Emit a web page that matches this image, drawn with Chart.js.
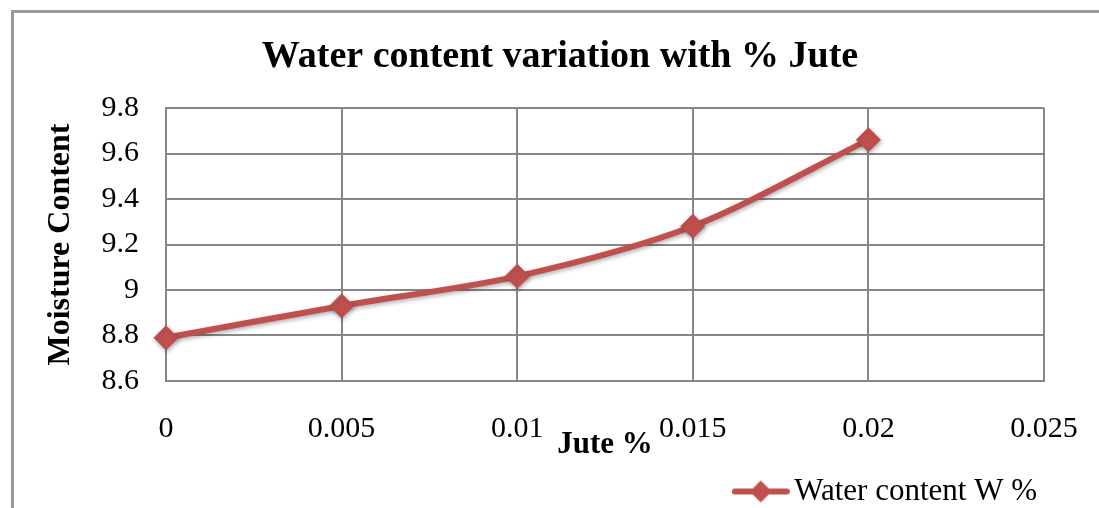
<!DOCTYPE html>
<html>
<head>
<meta charset="utf-8">
<script src="https://cdn.jsdelivr.net/npm/chart.js@4.4.1/dist/chart.umd.min.js"></script>
<style>
  html, body { margin: 0; padding: 0; background: #fff; }
  #wrap { width: 1099px; height: 508px; position: relative; }
</style>
</head>
<body>
<div id="wrap"><canvas id="c" width="1099" height="508"></canvas></div>
<script>
const jutePercent = [0, 0.005, 0.01, 0.015, 0.02];
const waterContent = [8.79, 8.93, 9.06, 9.28, 9.66];
const xTickValues = [0, 0.005, 0.01, 0.015, 0.02, 0.025];
const xTickLabels = ['0', '0.005', '0.01', '0.015', '0.02', '0.025'];
const yTickValues = [8.6, 8.8, 9.0, 9.2, 9.4, 9.6, 9.8];
const yTickLabels = ['8.6', '8.8', '9', '9.2', '9.4', '9.6', '9.8'];
const seriesName = 'Water content W %';
const chartTitle = 'Water content variation with % Jute';
const xTitle = 'Jute %';
const yTitle = 'Moisture Content';

const RED = '#C0504D';
const GRID = '#878787';
const FONT = 'Liberation Serif';

// legend symbol: line with diamond
const sym = document.createElement('canvas');
sym.width = 58; sym.height = 28;
(function(){
  const g = sym.getContext('2d');
  g.strokeStyle = RED; g.lineWidth = 6; g.lineCap = 'round';
  g.beginPath(); g.moveTo(3, 14); g.lineTo(55, 14); g.stroke();
  g.fillStyle = RED;
  g.beginPath(); g.moveTo(29, 3); g.lineTo(40, 14); g.lineTo(29, 25); g.lineTo(18, 14); g.closePath(); g.fill();
})();

const borderPlugin = {
  id: 'outerBorder',
  beforeDraw(chart) {
    const ctx = chart.ctx;
    ctx.save();
    ctx.fillStyle = '#fff';
    ctx.fillRect(0, 0, chart.width, chart.height);
    ctx.strokeStyle = '#999999';
    ctx.lineWidth = 3;
    ctx.beginPath();
    ctx.moveTo(12.5, chart.height);
    ctx.lineTo(12.5, 11.5);
    ctx.lineTo(chart.width, 11.5);
    ctx.stroke();
    ctx.restore();
  }
};

const titleShiftPlugin = {
  id: 'titleShift',
  afterLayout(chart) {
    const t = chart.titleBlock;
    if (t) { t.left += 31; t.right += 31; }
  }
};

const shadowPlugin = {
  id: 'lineShadow',
  beforeDatasetsDraw(chart) {
    const ctx = chart.ctx;
    ctx.save();
    ctx.shadowColor = 'rgba(0,0,0,0.3)';
    ctx.shadowBlur = 4;
    ctx.shadowOffsetX = 1;
    ctx.shadowOffsetY = 2;
  },
  afterDatasetsDraw(chart) {
    chart.ctx.restore();
  }
};

new Chart(document.getElementById('c'), {
  type: 'line',
  data: {
    datasets: [{
      label: seriesName,
      data: jutePercent.map((x, i) => ({ x: x, y: waterContent[i] })),
      borderColor: RED,
      backgroundColor: RED,
      borderWidth: 6,
      tension: 0.3,
      pointStyle: 'rectRot',
      pointRadius: 12,
      pointHoverRadius: 12,
      pointBorderWidth: 1,
      pointBackgroundColor: RED,
      pointBorderColor: RED,
      clip: false
    }]
  },
  options: {
    responsive: false,
    animation: false,
    devicePixelRatio: 1,
    layout: { padding: { left: 14, right: 55, top: 12, bottom: -9 } },
    plugins: {
      title: {
        display: true,
        text: chartTitle,
        color: '#000',
        font: { family: FONT, size: 38, weight: 'bold' },
        padding: { top: 22, bottom: 28.4 }
      },
      legend: {
        display: true,
        position: 'bottom',
        align: 'end',
        labels: {
          color: '#000',
          font: { family: FONT, size: 31 },
          usePointStyle: true,
          pointStyleWidth: 36,
          padding: 7,
          generateLabels(chart) {
            return chart.data.datasets.map((ds, i) => ({
              text: ds.label,
              pointStyle: sym,
              fillStyle: RED,
              strokeStyle: RED,
              lineWidth: 0,
              datasetIndex: i,
              fontColor: '#000'
            }));
          }
        }
      },
      tooltip: { enabled: false }
    },
    scales: {
      x: {
        type: 'linear',
        min: 0,
        max: 0.025,
        afterBuildTicks(scale) { scale.ticks = xTickValues.map(v => ({ value: v })); },
        afterFit(scale) { scale.height = 88; scale.paddingLeft = 0; scale.paddingRight = 0; },
        ticks: {
          color: '#000',
          font: { family: FONT, size: 30 },
          padding: 30,
          maxRotation: 0,
          autoSkip: false,
          callback(value, index) { return xTickLabels[index]; }
        },
        grid: { color: GRID, lineWidth: 2, drawTicks: false },
        border: { color: GRID, width: 2 },
        title: {
          display: true,
          text: xTitle,
          color: '#000',
          font: { family: FONT, size: 31, weight: 'bold' },
          padding: { top: 0, bottom: 5 }
        }
      },
      y: {
        type: 'linear',
        min: 8.6,
        max: 9.8,
        afterBuildTicks(scale) { scale.ticks = yTickValues.map(v => ({ value: v })); },
        afterFit(scale) { scale.width = 152; },
        ticks: {
          color: '#000',
          font: { family: FONT, size: 30 },
          padding: 27,
          autoSkip: false,
          callback(value, index) { return yTickLabels[index]; }
        },
        grid: { color: GRID, lineWidth: 2, drawTicks: false },
        border: { color: GRID, width: 2 },
        title: {
          display: true,
          text: yTitle,
          color: '#000',
          font: { family: FONT, size: 32, weight: 'bold' },
          padding: { top: 28, bottom: 0 }
        }
      }
    }
  },
  plugins: [borderPlugin, titleShiftPlugin, shadowPlugin]
});
</script>
</body>
</html>
